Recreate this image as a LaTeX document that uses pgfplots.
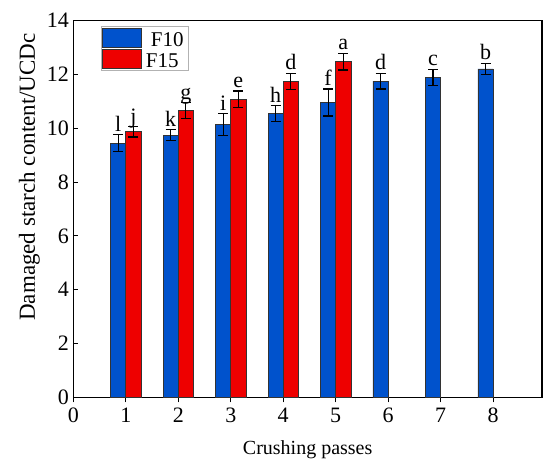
\documentclass[border=0pt]{standalone}
\usepackage{pgfplots}
\pgfplotsset{compat=1.18}
\usepackage{fontspec}
\setmainfont{Liberation Serif}
\definecolor{bblue}{RGB}{0,82,204}
\definecolor{rred}{RGB}{238,0,0}
\begin{document}
\begin{tikzpicture}
\begin{axis}[
  name=ax,
  scale only axis,
  width=468.7pt, height=376.6pt,
  xmin=0, xmax=8.93, ymin=0, ymax=14,
  xtick={0,1,...,8}, ytick={0,2,...,14},
  xtick pos=left, ytick pos=left,
  tick align=inside,
  major tick length=5pt,
  axis line style={line width=1.3pt},
  tick style={line width=1.1pt, black},
  /pgf/number format/assume math mode=true,
  ticklabel style={font=\fontsize{22}{26}\selectfont},
  xticklabel style={yshift=-2pt},
  yticklabel style={xshift=-1pt},
  xlabel style={font=\fontsize{20}{24}\selectfont, yshift=-11pt},
  ylabel style={font=\fontsize{23}{27}\selectfont, at={(ticklabel cs:0.585)}, yshift=0pt},
  xlabel={Crushing passes},
  ylabel={Damaged starch content/UCDc},
  ybar, bar width=0.29,
  legend style={at={(0.059,0.986)}, anchor=north west, draw=black!30, line width=0.8pt,
    font=\fontsize{21}{24}\selectfont, inner xsep=1pt, inner ysep=1.5pt,
    nodes={inner xsep=4pt, inner ysep=0pt}, cells={anchor=west}},
  legend image code/.code={\draw[#1] (0pt,-9.5pt) rectangle (39pt,9.5pt);},
  error bars/error bar style={line width=1.2pt, black},
  error bars/error mark options={rotate=90, mark size=5pt, line width=1.2pt, black},
]
\addplot[fill=bblue, draw=black!80, line width=0.6pt, bar shift=-0.145,
  error bars/.cd, y dir=both, y explicit]
  coordinates {
  (1,9.45) +- (0,0.31)
  (2,9.75) +- (0,0.20)
  (3,10.14) +- (0,0.40)
  (4,10.54) +- (0,0.30)
  (5,10.96) +- (0,0.50)
  (6,11.75) +- (0,0.29)
  (7,11.89) +- (0,0.30)
  (8,12.21) +- (0,0.20)
  };
\addlegendentry{\rule[-5pt]{0pt}{24pt}\hspace{5pt}F10}
\addplot[fill=rred, draw=black!80, line width=0.6pt, bar shift=0.145,
  error bars/.cd, y dir=both, y explicit]
  coordinates {
  (1,9.87) +- (0,0.19)
  (2,10.66) +- (0,0.29)
  (3,11.08) +- (0,0.31)
  (4,11.75) +- (0,0.30)
  (5,12.48) +- (0,0.31)
  };
\addlegendentry{\rule[-5pt]{0pt}{24pt}F15}
\addplot[only marks, mark=none, forget plot, bar shift=0pt, nodes near coords, point meta=explicit symbolic,
  nodes near coords style={font=\fontsize{22}{26}\selectfont, anchor=base, inner sep=0pt, yshift=3.5pt}]
  table[meta=lab] {
  x y lab
  0.855 9.76 l
  1.855 9.95 k
  2.855 10.54 i
  3.855 10.84 h
  4.855 11.46 f
  5.855 12.04 d
  6.855 12.19 c
  7.855 12.41 b
  1.145 10.06 j
  2.145 10.95 g
  3.145 11.39 e
  4.145 12.05 d
  5.145 12.79 a
  };
\end{axis}
\pgfresetboundingbox
\path (ax.south west) ++(-73.3pt,-70.7pt) coordinate (bl);
\path (ax.north east) ++(8pt,20.7pt) coordinate (tr);
\path[use as bounding box] (bl) rectangle (tr);
\end{tikzpicture}
\end{document}
